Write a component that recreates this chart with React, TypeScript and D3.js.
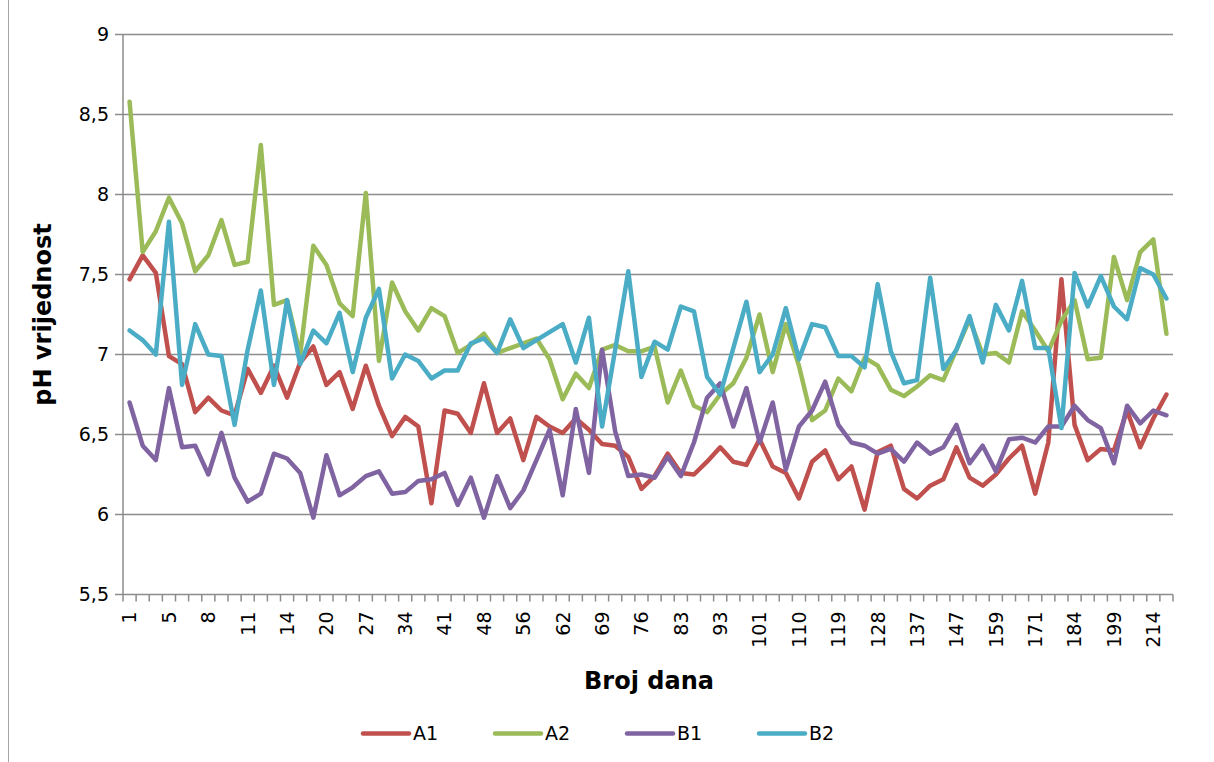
import { useEffect, useRef } from 'react';
import * as d3 from 'd3';

// days (only every third one is labelled on the axis)
const days = [
  1, 2, 3, 5, 6, 7, 8, 9, 10, 11, 12, 13, 14, 16, 18, 20, 22, 25, 27, 29,
  31, 34, 36, 38, 41, 43, 46, 48, 51, 53, 56, 58, 60, 62, 64, 67, 69, 71, 74, 76,
  78, 81, 83, 86, 90, 93, 95, 98, 101, 104, 107, 110, 113, 116, 119, 122, 125, 128, 131, 134,
  137, 140, 144, 147, 151, 155, 159, 163, 167, 171, 175, 179, 184, 189, 194, 199, 204, 209, 214, 218,
];

const a1 = [
  7.47, 7.62, 7.51, 6.99, 6.94, 6.64, 6.73, 6.65, 6.62, 6.91, 6.76, 6.93, 6.73, 6.95, 7.05, 6.81, 6.89, 6.66, 6.93, 6.68,
  6.49, 6.61, 6.55, 6.07, 6.65, 6.63, 6.51, 6.82, 6.51, 6.6, 6.34, 6.61, 6.55, 6.51, 6.6, 6.53, 6.44, 6.43, 6.36, 6.16,
  6.24, 6.38, 6.26, 6.25, 6.33, 6.42, 6.33, 6.31, 6.47, 6.3, 6.26, 6.1, 6.33, 6.4, 6.22, 6.3, 6.03, 6.39, 6.43, 6.16,
  6.1, 6.18, 6.22, 6.42, 6.23, 6.18, 6.25, 6.35, 6.43, 6.13, 6.45, 7.47, 6.56, 6.34, 6.41, 6.4, 6.65, 6.42, 6.6, 6.75,
];

const a2 = [
  8.58, 7.64, 7.77, 7.98, 7.82, 7.52, 7.62, 7.84, 7.56, 7.58, 8.31, 7.31, 7.34, 7.0, 7.68, 7.56, 7.32, 7.24, 8.01, 6.96,
  7.45, 7.27, 7.15, 7.29, 7.24, 7.01, 7.06, 7.13, 7.01, 7.04, 7.07, 7.1, 6.97, 6.72, 6.88, 6.79, 7.03, 7.06, 7.02, 7.02,
  7.05, 6.7, 6.9, 6.68, 6.64, 6.75, 6.82, 6.98, 7.25, 6.89, 7.19, 6.93, 6.59, 6.65, 6.85, 6.77, 6.98, 6.93, 6.78, 6.74,
  6.8, 6.87, 6.84, 7.03, 7.22, 7.0, 7.01, 6.95, 7.27, 7.15, 7.02, 7.21, 7.34, 6.97, 6.98, 7.61, 7.34, 7.64, 7.72, 7.13,
];

const b1 = [
  6.7, 6.43, 6.34, 6.79, 6.42, 6.43, 6.25, 6.51, 6.23, 6.08, 6.13, 6.38, 6.35, 6.26, 5.98, 6.37, 6.12, 6.17, 6.24, 6.27,
  6.13, 6.14, 6.21, 6.22, 6.26, 6.06, 6.23, 5.98, 6.24, 6.04, 6.15, 6.34, 6.53, 6.12, 6.66, 6.26, 7.03, 6.52, 6.24, 6.25,
  6.23, 6.36, 6.24, 6.45, 6.73, 6.82, 6.55, 6.79, 6.45, 6.7, 6.28, 6.55, 6.65, 6.83, 6.56, 6.45, 6.43, 6.38, 6.41, 6.33,
  6.45, 6.38, 6.42, 6.56, 6.32, 6.43, 6.27, 6.47, 6.48, 6.45, 6.55, 6.55, 6.68, 6.59, 6.54, 6.32, 6.68, 6.57, 6.65, 6.62,
];

const b2 = [
  7.15, 7.09, 7.0, 7.83, 6.81, 7.19, 7.0, 6.99, 6.56, 7.03, 7.4, 6.81, 7.34, 6.94, 7.15, 7.07, 7.26, 6.89, 7.23, 7.41,
  6.85, 7.0, 6.96, 6.85, 6.9, 6.9, 7.07, 7.1, 7.01, 7.22, 7.04, 7.09, 7.14, 7.19, 6.95, 7.23, 6.55, 7.03, 7.52, 6.86,
  7.08, 7.03, 7.3, 7.27, 6.86, 6.75, 7.04, 7.33, 6.89, 7.0, 7.29, 6.97, 7.19, 7.17, 6.99, 6.99, 6.92, 7.44, 7.02, 6.82,
  6.84, 7.48, 6.91, 7.03, 7.24, 6.95, 7.31, 7.15, 7.46, 7.04, 7.04, 6.54, 7.51, 7.3, 7.49, 7.3, 7.22, 7.54, 7.5, 7.35,
];

const seriesNames = ['A1', 'A2', 'B1', 'B2'];
const seriesColors = ['#C0504D', '#9BBB59', '#8064A2', '#4BACC6'];
const yTicks = [5.5, 6, 6.5, 7, 7.5, 8, 8.5, 9];

const W = 1214;
const H = 762;
const FONT = '"DejaVu Sans", Verdana, sans-serif';

export default function App() {
  const svgRef = useRef<SVGSVGElement>(null);

  useEffect(() => {
    if (!svgRef.current) return;
    const svg = d3.select(svgRef.current);
    svg.selectAll('*').remove();

    const left = 123;
    const right = 1173;
    const top = 34.5;
    const bottom = 594.5;

    const x = d3.scaleBand<number>()
      .domain(d3.range(days.length))
      .range([left, right])
      .paddingInner(0)
      .paddingOuter(0);
    const cx = (i: number) => (x(i) || 0) + x.bandwidth() / 2;

    const y = d3.scaleLinear().domain([5.5, 9]).range([bottom, top]);

    // outer frame line
    svg.append('line')
      .attr('x1', 8.5).attr('x2', 8.5)
      .attr('y1', 0).attr('y2', H)
      .attr('stroke', '#a6a6a6').attr('stroke-width', 1);

    // gridlines
    svg.append('g')
      .selectAll('line')
      .data(yTicks)
      .join('line')
      .attr('x1', left - 8)
      .attr('x2', right)
      .attr('y1', d => y(d))
      .attr('y2', d => y(d))
      .attr('stroke', '#8c8c8c')
      .attr('stroke-width', 1.5);

    // y axis line
    svg.append('line')
      .attr('x1', left).attr('x2', left)
      .attr('y1', top).attr('y2', bottom)
      .attr('stroke', '#8c8c8c').attr('stroke-width', 1.5);

    // y labels
    svg.append('g')
      .selectAll('text')
      .data(yTicks)
      .join('text')
      .attr('x', left - 14)
      .attr('y', d => y(d))
      .attr('dy', '0.36em')
      .attr('text-anchor', 'end')
      .attr('font-family', FONT)
      .attr('font-size', 19)
      .attr('fill', '#000')
      .text(d => d3.format('.1~f')(d).replace('.', ','));

    // x axis ticks at category boundaries
    const bounds = d3.range(days.length + 1).map(i => left + i * x.bandwidth());
    svg.append('g')
      .selectAll('line')
      .data(bounds)
      .join('line')
      .attr('x1', d => d)
      .attr('x2', d => d)
      .attr('y1', bottom)
      .attr('y2', bottom + 7)
      .attr('stroke', '#8c8c8c')
      .attr('stroke-width', 1.5);

    // x labels (every third day)
    svg.append('g')
      .selectAll('text')
      .data(days.map((d, i) => ({ d, i })).filter(o => o.i % 3 === 0))
      .join('text')
      .attr('transform', o => `translate(${cx(o.i)},${bottom + 17}) rotate(-90)`)
      .attr('dy', '0.36em')
      .attr('text-anchor', 'end')
      .attr('font-family', FONT)
      .attr('font-size', 19)
      .attr('fill', '#000')
      .text(o => String(o.d));

    // series lines
    const allSeries = [a1, a2, b1, b2];
    const line = d3.line<number>()
      .x((d, i) => cx(i))
      .y(d => y(d));

    svg.append('g')
      .selectAll('path')
      .data(allSeries)
      .join('path')
      .attr('d', d => line(d))
      .attr('fill', 'none')
      .attr('stroke', (d, i) => seriesColors[i])
      .attr('stroke-width', 4.5)
      .attr('stroke-linejoin', 'round')
      .attr('stroke-linecap', 'round');

    // axis titles
    svg.append('text')
      .attr('transform', `translate(51,${(top + bottom) / 2}) rotate(-90)`)
      .attr('text-anchor', 'middle')
      .attr('font-family', FONT)
      .attr('font-weight', 'bold')
      .attr('font-size', 24)
      .text('pH vrijednost');

    svg.append('text')
      .attr('x', (left + right) / 2 + 1)
      .attr('y', 689)
      .attr('text-anchor', 'middle')
      .attr('font-family', FONT)
      .attr('font-weight', 'bold')
      .attr('font-size', 24)
      .text('Broj dana');

    // legend
    const legend = svg.append('g')
      .selectAll('g')
      .data(seriesNames)
      .join('g')
      .attr('transform', (d, i) => `translate(${363 + i * 132},733.5)`);
    legend.append('line')
      .attr('x1', 0).attr('x2', 46)
      .attr('stroke', (d, i) => seriesColors[i])
      .attr('stroke-width', 4.5)
      .attr('stroke-linecap', 'round');
    legend.append('text')
      .attr('x', 50)
      .attr('dy', '0.36em')
      .attr('font-family', FONT)
      .attr('font-size', 19)
      .text(d => d);
  }, []);

  return (
    <svg
      ref={svgRef}
      width={W}
      height={H}
      style={{ position: 'absolute', left: 0, top: 0, background: '#fff' }}
    />
  );
}
